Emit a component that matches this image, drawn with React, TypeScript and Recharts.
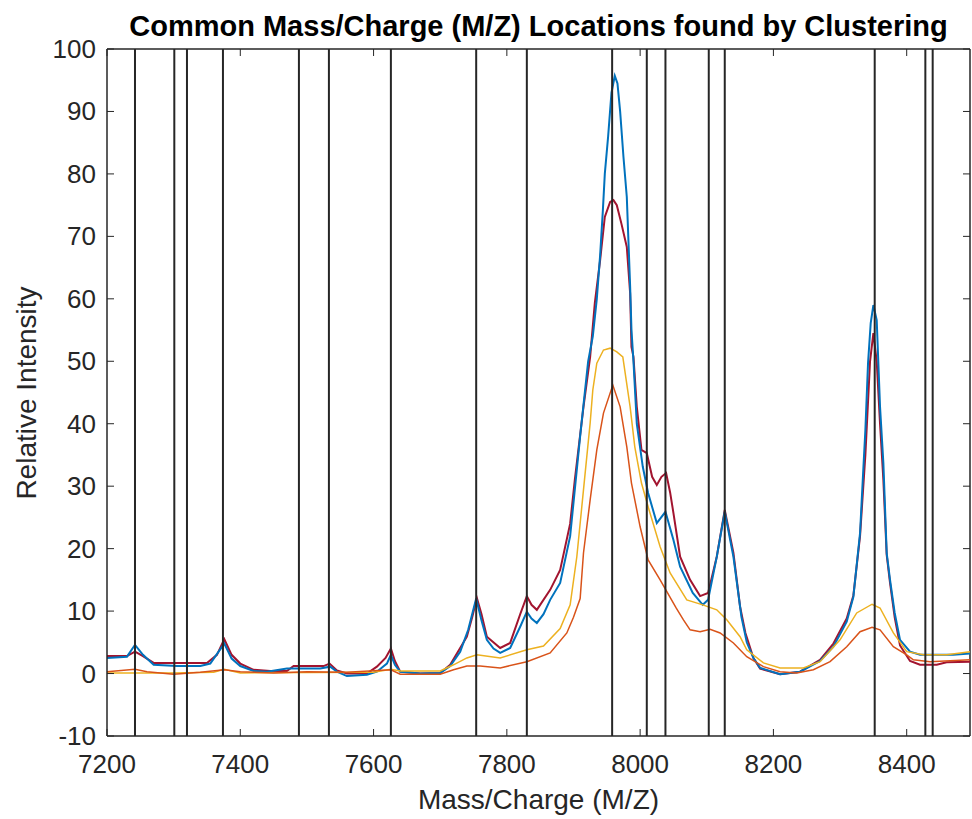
import { LineChart, Line, XAxis, YAxis, ReferenceLine } from 'recharts'

// m/z positions found by clustering (vertical lines)
const clusterLocations = [7242, 7301, 7320, 7374, 7488, 7533, 7626, 7754, 7830, 7958, 8010, 8038, 8103, 8127, 8352, 8428, 8439]

const xTicks = [7200, 7400, 7600, 7800, 8000, 8200, 8400]
const yTicks = [-10, 0, 10, 20, 30, 40, 50, 60, 70, 80, 90, 100]

// [m/z, relative intensity]
const blueSpectrum = [
  [7200, 2.5], [7230, 2.7], [7242, 4.6], [7254, 3.0], [7270, 1.4], [7305, 1.2], [7340, 1.2], [7355, 1.6],
  [7368, 3.6], [7376, 4.8], [7387, 2.4], [7400, 1.2], [7420, 0.4], [7440, 0.3], [7470, 0.8], [7520, 0.8],
  [7535, 1.1], [7545, 0.3], [7560, -0.4], [7590, -0.2], [7605, 0.3], [7620, 1.6], [7626, 3.0], [7632, 1.4],
  [7640, 0.3], [7670, 0.0], [7700, 0.1], [7715, 1.2], [7730, 3.5], [7742, 7.0], [7754, 12.0], [7762, 8.5],
  [7770, 5.4], [7780, 4.0], [7790, 3.3], [7805, 4.1], [7820, 7.5], [7830, 9.9], [7837, 8.8], [7845, 8.1],
  [7855, 9.5], [7865, 11.8], [7880, 14.5], [7895, 22.0], [7910, 38.0], [7922, 50.0], [7929, 54.0],
  [7935, 60.0], [7940, 67.0], [7944, 74.0], [7947, 80.0], [7952, 86.0], [7957, 93.0], [7962, 95.7],
  [7966, 94.5], [7970, 90.0], [7975, 82.7], [7980, 76.3], [7985, 62.0], [7987, 55.0], [7990, 50.0],
  [7995, 40.0], [8004, 33.1], [8012, 28.9], [8025, 24.1], [8038, 25.9], [8050, 21.4], [8060, 17.1],
  [8079, 12.9], [8094, 11.0], [8102, 11.8], [8115, 18.7], [8127, 25.9], [8140, 18.7], [8152, 9.1],
  [8160, 5.0], [8170, 2.5], [8180, 0.9], [8210, -0.1], [8240, 0.3], [8270, 2.0], [8290, 4.3], [8310, 8.3],
  [8320, 12.3], [8330, 22.5], [8335, 32.9], [8338, 39.0], [8342, 49.7], [8346, 56.1], [8350, 59.0],
  [8355, 56.6], [8360, 42.7], [8365, 33.7], [8370, 19.3], [8375, 15.0], [8382, 9.7], [8390, 5.4],
  [8405, 3.5], [8420, 3.0], [8470, 3.0], [8495, 3.2],
]

const redSpectrum = [
  [7200, 2.8], [7230, 2.8], [7242, 3.5], [7254, 2.8], [7270, 1.7], [7350, 1.7], [7365, 3.0], [7376, 5.5],
  [7387, 3.0], [7400, 1.6], [7420, 0.6], [7445, 0.4], [7470, 0.4], [7480, 1.2], [7525, 1.2], [7534, 1.6],
  [7545, 0.5], [7560, 0.0], [7590, 0.0], [7605, 1.1], [7618, 2.5], [7626, 4.0], [7632, 2.0], [7640, 0.3],
  [7670, 0.0], [7700, 0.1], [7715, 1.4], [7740, 5.9], [7748, 9.0], [7755, 12.1], [7762, 9.5], [7770, 5.9],
  [7790, 4.1], [7805, 4.9], [7820, 9.5], [7830, 12.4], [7837, 11.0], [7845, 10.2], [7865, 13.4],
  [7880, 16.6], [7895, 24.0], [7902, 31.0], [7915, 42.7], [7925, 50.7], [7932, 59.3], [7940, 66.2],
  [7947, 73.1], [7955, 75.5], [7960, 75.8], [7965, 75.0], [7972, 72.0], [7980, 68.3], [7985, 60.9],
  [7987, 52.3], [7990, 50.7], [7995, 42.7], [8002, 35.8], [8010, 35.3], [8018, 31.5], [8025, 30.2],
  [8032, 31.5], [8039, 32.1], [8045, 29.0], [8050, 25.7], [8060, 18.7], [8075, 15.0], [8090, 12.4],
  [8102, 12.9], [8115, 18.7], [8127, 26.2], [8140, 19.3], [8150, 10.7], [8158, 6.5], [8170, 2.5],
  [8180, 0.8], [8210, -0.1], [8240, 0.3], [8270, 2.2], [8290, 4.8], [8310, 8.8], [8320, 12.5], [8330, 22.0],
  [8338, 35.0], [8345, 50.0], [8350, 54.5], [8355, 50.0], [8360, 40.0], [8365, 31.0], [8370, 19.0],
  [8375, 14.5], [8382, 9.0], [8390, 4.5], [8405, 2.0], [8420, 1.4], [8445, 1.4], [8460, 1.8], [8495, 1.9],
]

const yellowSpectrum = [
  [7200, 0.1], [7300, 0.1], [7360, 0.2], [7376, 0.7], [7400, 0.1], [7600, 0.2], [7626, 0.7], [7640, 0.4],
  [7700, 0.4], [7720, 1.4], [7740, 2.5], [7755, 3.0], [7790, 2.5], [7830, 3.8], [7855, 4.4], [7880, 7.2],
  [7895, 11.0], [7905, 18.7], [7915, 29.4], [7925, 40.1], [7929, 45.4], [7935, 49.7], [7945, 51.8],
  [7955, 52.1], [7965, 51.5], [7974, 50.7], [7985, 42.7], [7992, 36.3], [8002, 30.5], [8012, 26.7],
  [8030, 20.3], [8045, 16.1], [8070, 11.8], [8094, 11.0], [8115, 10.2], [8130, 8.6], [8150, 5.9],
  [8160, 3.8], [8185, 1.7], [8210, 0.9], [8245, 0.9], [8270, 1.9], [8300, 5.4], [8325, 9.7], [8348, 11.1],
  [8360, 10.5], [8380, 6.5], [8400, 3.5], [8425, 3.0], [8460, 3.0], [8495, 3.5],
]

const orangeSpectrum = [
  [7200, 0.3], [7242, 0.7], [7260, 0.3], [7300, -0.1], [7340, 0.2], [7376, 0.6], [7400, 0.3], [7450, 0.1],
  [7500, 0.3], [7560, 0.2], [7626, 0.6], [7640, -0.1], [7700, -0.1], [7720, 0.6], [7740, 1.2], [7760, 1.2],
  [7790, 0.9], [7830, 1.9], [7865, 3.3], [7890, 6.5], [7900, 9.0], [7910, 12.0], [7915, 19.3], [7925, 27.8],
  [7935, 35.8], [7945, 41.7], [7959, 46.2], [7970, 42.7], [7980, 36.3], [7987, 30.5], [8000, 23.5],
  [8012, 18.2], [8030, 15.0], [8054, 10.5], [8065, 8.6], [8075, 7.0], [8090, 6.7], [8105, 7.1], [8120, 6.5],
  [8140, 4.9], [8160, 2.7], [8185, 1.1], [8210, 0.3], [8235, 0.1], [8260, 0.6], [8285, 1.9], [8310, 4.3],
  [8330, 6.7], [8348, 7.4], [8360, 7.0], [8380, 4.3], [8400, 3.0], [8410, 2.2], [8435, 1.9], [8495, 2.2],
]

const toPoints = (s: number[][]) => s.map(([mz, v]) => ({ mz, v }))

const W = 972
const H = 819
const PLOT_LEFT = 107
const PLOT_TOP = 49
const PLOT_W = 863
const PLOT_H = 687
const TICK = 7
const AXIS = '#262626'
const FONT = '"Liberation Sans", Arial, Helvetica, sans-serif'

const XTick = (props: any) => {
  const { x, y, payload } = props
  return (
    <g>
      <line x1={x} x2={x} y1={y} y2={y - TICK} stroke={AXIS} />
      <line x1={x} x2={x} y1={y - PLOT_H} y2={y - PLOT_H + TICK} stroke={AXIS} />
      <text x={x} y={y + 37} textAnchor="middle" fill={AXIS} fontSize={26} fontFamily={FONT}>
        {payload.value}
      </text>
    </g>
  )
}

const YTick = (props: any) => {
  const { x, y, payload } = props
  return (
    <g>
      <line x1={x} x2={x + TICK} y1={y} y2={y} stroke={AXIS} />
      <line x1={x + PLOT_W - TICK} x2={x + PLOT_W} y1={y} y2={y} stroke={AXIS} />
      <text x={x - 11} y={y + 9} textAnchor="end" fill={AXIS} fontSize={26} fontFamily={FONT}>
        {payload.value}
      </text>
    </g>
  )
}

export default function App() {
  return (
    <div style={{ position: 'absolute', left: 0, top: 0, width: W, height: H, background: '#fff', fontFamily: FONT }}>
      <LineChart
        width={W}
        height={H}
        margin={{ top: PLOT_TOP, right: W - PLOT_LEFT - PLOT_W, bottom: H - PLOT_TOP - PLOT_H - 40, left: PLOT_LEFT - 60 }}
      >
        <XAxis
          dataKey="mz"
          type="number"
          domain={[7200, 8495]}
          ticks={xTicks}
          interval={0}
          allowDataOverflow
          height={40}
          tickSize={0}
          tickMargin={0}
          tickLine={false}
          tick={<XTick />}
          axisLine={{ stroke: AXIS, strokeWidth: 1.5 }}
        />
        <YAxis
          type="number"
          domain={[-10, 100]}
          ticks={yTicks}
          interval={0}
          allowDataOverflow
          width={60}
          tickSize={0}
          tickMargin={0}
          tickLine={false}
          tick={<YTick />}
          axisLine={{ stroke: AXIS, strokeWidth: 1.5 }}
        />
        <ReferenceLine y={100} stroke={AXIS} strokeWidth={1.5} />
        <ReferenceLine x={8495} stroke={AXIS} strokeWidth={1.5} />
        <Line data={toPoints(redSpectrum)} dataKey="v" type="linear" stroke="#A2142F" strokeWidth={2} dot={false} isAnimationActive={false} />
        <Line data={toPoints(blueSpectrum)} dataKey="v" type="linear" stroke="#0072BD" strokeWidth={2} dot={false} isAnimationActive={false} />
        <Line data={toPoints(yellowSpectrum)} dataKey="v" type="linear" stroke="#EDB120" strokeWidth={1.5} dot={false} isAnimationActive={false} />
        <Line data={toPoints(orangeSpectrum)} dataKey="v" type="linear" stroke="#D95319" strokeWidth={1.5} dot={false} isAnimationActive={false} />
        {clusterLocations.map((loc) => (
          <ReferenceLine key={loc} x={loc} stroke={AXIS} strokeWidth={2} />
        ))}
      </LineChart>
      <div style={{ position: 'absolute', left: PLOT_LEFT, width: PLOT_W, top: 8, textAlign: 'center', fontSize: 29, fontWeight: 'bold', color: '#000', lineHeight: '36px', whiteSpace: 'nowrap' }}>
        Common Mass/Charge (M/Z) Locations found by Clustering
      </div>
      <div style={{ position: 'absolute', left: PLOT_LEFT, width: PLOT_W, top: 782, textAlign: 'center', fontSize: 28, color: AXIS, lineHeight: '36px' }}>
        Mass/Charge (M/Z)
      </div>
      <div style={{ position: 'absolute', left: 27, top: PLOT_TOP + PLOT_H / 2, transform: 'translate(-50%, -50%) rotate(-90deg)', fontSize: 28, color: AXIS, lineHeight: '36px', whiteSpace: 'nowrap' }}>
        Relative Intensity
      </div>
    </div>
  )
}
